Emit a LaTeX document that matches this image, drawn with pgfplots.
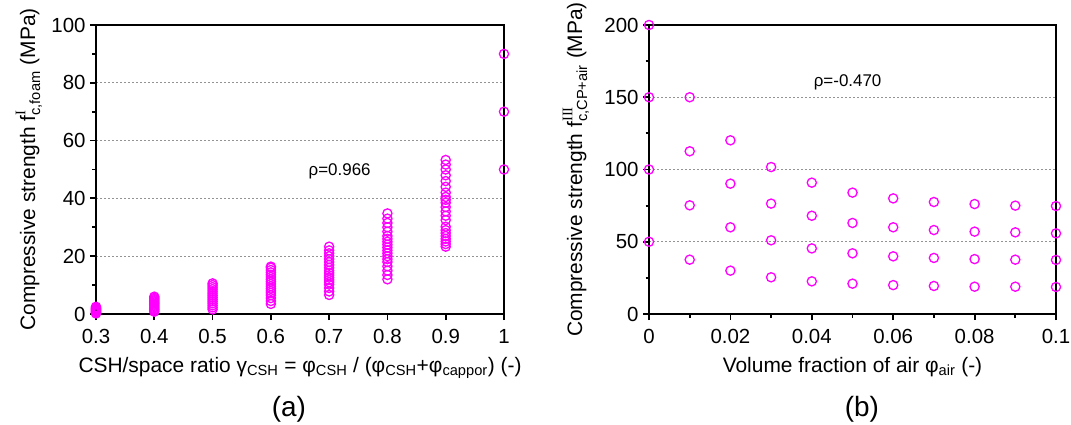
\documentclass[border=0pt]{standalone}
\usepackage{fontspec}
\setmainfont{Liberation Sans}
\newfontfamily\seriffont{Liberation Serif}
\usepackage{amsmath}
\usepackage{pgfplots}
\pgfplotsset{compat=1.18}
\definecolor{mag}{RGB}{255,0,255}
\pgfplotsset{
  common/.style={
    scale only axis, width=408bp, height=289bp,
    axis line style={line width=1.8bp},
    tick align=outside, tick pos=left,
    major tick length=6bp, minor tick length=3.5bp,
    every tick/.style={black, line width=1.8bp},
    ymajorgrids,
    grid style={gray!85, line width=0.8bp, dash pattern=on 1.5bp off 2.5bp},
    /pgf/number format/assume math mode=true,
    tick label style={font=\fontsize{20.5}{20.5}\selectfont},
    label style={font=\fontsize{21}{23}\selectfont},
    xticklabel style={yshift=-6bp},
    yticklabel style={xshift=-1bp},
    clip=false, axis on top,
    scaled ticks=false,
  },
  pts/.style={only marks, mark=o, mark size=4.6bp, mag, mark options={line width=1.3bp}},
}
\begin{document}
\begin{tikzpicture}
\useasboundingbox (0,0) rectangle (1071bp,425bp);
% ---------------- (a)
\begin{axis}[common,
  at={(96bp,111bp)}, anchor=south west,
  xmin=0.3, xmax=1, ymin=0, ymax=100,
  xtick={0.3,0.4,0.5,0.6,0.7,0.8,0.9,1},
  xticklabels={0.3,0.4,0.5,0.6,0.7,0.8,0.9,1},
  ytick={0,20,40,60,80,100}, minor ytick={10,30,50,70,90},
  xlabel={CSH/space ratio γ$_{\text{CSH}}$ = φ$_{\text{CSH}}$ / (φ$_{\text{CSH}}$+φ$_{\text{cappor}}$) (-)},
  xlabel style={at={(axis description cs:0.5,-0.2007)}, anchor=base},
  ylabel={Compressive strength $\text{f}^{\text{\seriffont I}}_{\text{c,foam}}$ (MPa)},
  ylabel style={at={(axis description cs:-0.1495,0.5)}, anchor=base},
]
\addplot[pts] coordinates {
(0.3,0.2)(0.3,0.4)(0.3,0.6)(0.3,0.8)(0.3,1.0)(0.3,1.2)(0.3,1.4)(0.3,1.6)(0.3,1.8)(0.3,2.0)(0.3,2.2)(0.3,2.5)
(0.4,0.8)(0.4,1.2)(0.4,1.6)(0.4,2.0)(0.4,2.4)(0.4,2.8)(0.4,3.2)(0.4,3.6)(0.4,4.0)(0.4,4.4)(0.4,4.8)(0.4,5.2)(0.4,5.6)(0.4,6.0)
(0.5,1.6)(0.5,2.3)(0.5,3.0)(0.5,3.7)(0.5,4.4)(0.5,5.1)(0.5,5.8)(0.5,6.5)(0.5,7.2)(0.5,7.9)(0.5,8.6)(0.5,9.3)(0.5,10.0)(0.5,10.6)
(0.6,3.5)(0.6,4.5)(0.6,5.5)(0.6,6.5)(0.6,7.3)(0.6,8.0)(0.6,8.8)(0.6,9.6)(0.6,10.4)(0.6,11.2)(0.6,12.0)(0.6,12.8)(0.6,13.6)(0.6,14.4)(0.6,15.2)(0.6,16.0)(0.6,16.4)
(0.7,6.6)(0.7,7.8)(0.7,9.0)(0.7,10.2)(0.7,11.0)(0.7,11.8)(0.7,12.6)(0.7,13.4)(0.7,14.2)(0.7,15.0)(0.7,16.0)(0.7,17.0)(0.7,18.0)(0.7,19.0)(0.7,20.0)(0.7,21.0)(0.7,22.0)(0.7,23.3)
(0.8,12.0)(0.8,13.5)(0.8,15.0)(0.8,16.5)(0.8,18.0)(0.8,19.0)(0.8,20.0)(0.8,21.0)(0.8,22.0)(0.8,23.0)(0.8,24.0)(0.8,25.0)(0.8,26.0)(0.8,27.0)(0.8,28.5)(0.8,30.0)(0.8,31.5)(0.8,33.0)(0.8,34.8)
(0.9,23.3)(0.9,24.2)(0.9,25.1)(0.9,26.0)(0.9,27.0)(0.9,28.0)(0.9,29.0)(0.9,30.2)(0.9,32.5)(0.9,34.0)(0.9,35.5)(0.9,37.0)(0.9,38.5)(0.9,39.5)(0.9,40.5)(0.9,42.0)(0.9,44.0)(0.9,46.0)(0.9,48.0)(0.9,50.0)(0.9,51.7)(0.9,53.3)
(1,50)(1,70)(1,90)
};
\node[font=\fontsize{17}{17}\selectfont] at (axis cs:0.718,49.5) {ρ=0.966};
\node[font=\fontsize{28}{28}\selectfont, anchor=base] at (axis description cs:0.473,-0.356) {(a)};
\end{axis}
% ---------------- (b)
\begin{axis}[common,
  at={(649bp,111bp)}, anchor=south west, width=407bp,
  xmin=0, xmax=0.1, ymin=0, ymax=200,
  xtick={0,0.02,0.04,0.06,0.08,0.1},
  xticklabels={0,0.02,0.04,0.06,0.08,0.1},
  minor xtick={0.01,0.03,0.05,0.07,0.09},
  ytick={0,50,100,150,200}, minor ytick={25,75,125,175},
  xlabel={Volume fraction of air φ$_{\text{air}}$ (-)},
  xlabel style={at={(axis description cs:0.5,-0.2007)}, anchor=base},
  ylabel={Compressive strength $\text{f}^{\text{\seriffont III}}_{\text{c,CP+air}}$ (MPa)},
  ylabel style={at={(axis description cs:-0.1646,0.5)}, anchor=base},
]
\addplot[pts] coordinates {
(0,200)(0,150)(0,100)(0,50)
(0.01,150)(0.01,112.6)(0.01,75.2)(0.01,37.6)
(0.02,120.2)(0.02,90.2)(0.02,60)(0.02,30)
(0.03,101.7)(0.03,76.4)(0.03,51)(0.03,25.4)
(0.04,90.9)(0.04,68)(0.04,45.4)(0.04,22.6)
(0.05,84)(0.05,63)(0.05,42)(0.05,21)
(0.06,80)(0.06,60)(0.06,39.9)(0.06,20)
(0.07,77.5)(0.07,58.1)(0.07,38.8)(0.07,19.4)
(0.08,76.1)(0.08,57)(0.08,38)(0.08,18.9)
(0.09,75)(0.09,56.5)(0.09,37.6)(0.09,18.9)
(0.1,74.7)(0.1,55.8)(0.1,37.4)(0.1,18.7)
};
\node[font=\fontsize{17}{17}\selectfont] at (axis cs:0.0488,160.2) {ρ=-0.470};
\node[font=\fontsize{28}{28}\selectfont, anchor=base] at (axis description cs:0.523,-0.356) {(b)};
\end{axis}
\end{tikzpicture}
\end{document}
